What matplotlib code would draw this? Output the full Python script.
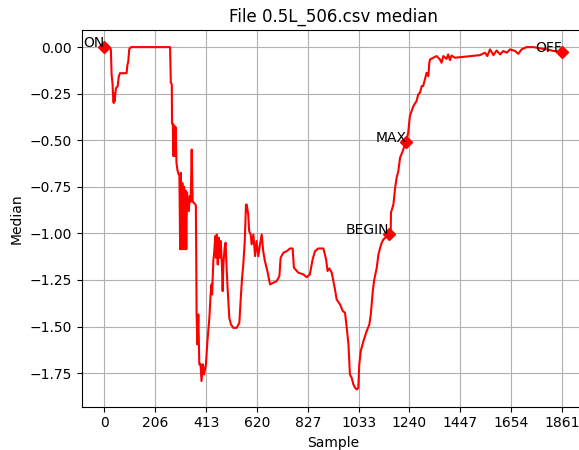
import numpy as np
import matplotlib
matplotlib.use("Agg")
import matplotlib.pyplot as plt

# median trace (sample index, median value)
sample = [
    0, 14, 22, 26, 29, 33, 36, 38, 40, 42, 45, 47, 54, 58, 63, 90, 93, 97, 99, 101, 108,
    267, 270, 274, 275, 278, 281, 284, 287, 290, 293, 297, 301, 305, 308, 311, 314, 317,
    321, 324, 327, 330, 333, 336, 339, 343, 347, 351, 355, 359, 367, 372,
    375, 378, 382, 386, 391, 395, 400, 405, 413, 419, 427, 432, 436, 438, 443, 447, 451,
    454, 457, 461, 465, 469, 473, 478, 481, 484, 489, 493, 497, 501, 508, 515, 524, 538,
    549, 554, 560, 565, 571, 576, 579, 585, 589, 595, 599, 606, 613, 619, 626, 633, 640,
    646, 653, 663, 674, 687, 701, 712, 717, 728, 742, 755, 766, 771, 789, 809, 823, 836,
    847, 857, 870, 891, 902, 908, 915, 925, 938, 945, 959, 970, 979, 986, 993, 999, 1006,
    1013, 1020, 1027, 1033, 1037, 1043, 1054, 1067, 1078, 1084, 1092, 1097, 1108, 1115,
    1122, 1128, 1135, 1149, 1160, 1165, 1166, 1176, 1183, 1189, 1196, 1203, 1214, 1223,
    1228, 1236, 1243, 1250, 1257, 1270, 1277, 1284, 1291, 1297, 1304, 1311, 1318, 1322,
    1325, 1338, 1352, 1365, 1372, 1379, 1392, 1399, 1406, 1413, 1426, 1447, 1488, 1528,
    1549, 1558, 1569, 1583, 1596, 1610, 1623, 1637, 1651, 1671, 1684, 1698, 1718, 1746,
    1773, 1800, 1827, 1861,
]
median = [
    0.0, 0.0, -0.005, -0.01, -0.145, -0.20, -0.29, -0.30, -0.25, -0.29, -0.24, -0.22,
    -0.21, -0.16, -0.14, -0.14, -0.10, -0.075, -0.04, -0.01, 0.0,
    0.0, -0.19, -0.20, -0.41, -0.41, -0.585, -0.42, -0.585, -0.43, -0.62, -0.66, -0.68,
    -0.69, -1.085, -0.675, -1.085, -0.73, -1.085, -0.75, -1.085, -0.77, -1.085, -0.78,
    -0.84, -0.88, -0.80, -0.83, -0.55, -0.83, -0.84, -0.85,
    -1.435, -1.596, -1.435, -1.703, -1.703, -1.793, -1.703, -1.757, -1.703, -1.578,
    -1.453, -1.328, -1.274, -1.328, -1.149, -1.095, -1.014, -1.131, -1.006, -1.167,
    -1.023, -1.131, -1.041, -1.167, -1.310, -1.167, -1.077, -1.050, -1.184, -1.292,
    -1.453, -1.489, -1.507, -1.507, -1.480, -1.363, -1.238, -1.167, -1.041, -0.845,
    -0.845, -0.898, -0.988, -1.006, -1.059, -1.006, -1.122, -1.041, -1.122, -1.059,
    -1.006, -1.095, -1.149, -1.202, -1.274, -1.265, -1.256, -1.229, -1.131, -1.104,
    -1.095, -1.081, -1.081, -1.184, -1.211, -1.220, -1.235, -1.220, -1.140, -1.095,
    -1.081, -1.081, -1.140, -1.202, -1.188, -1.211, -1.300, -1.355, -1.382, -1.417,
    -1.426, -1.507, -1.596, -1.757, -1.775, -1.811, -1.829, -1.838, -1.829, -1.704,
    -1.632, -1.578, -1.525, -1.489, -1.435, -1.310, -1.256, -1.185, -1.113, -1.077,
    -1.051, -1.033, -1.015, -1.002, -0.987, -0.889, -0.844, -0.755, -0.701, -0.665,
    -0.594, -0.558, -0.522, -0.510, -0.460, -0.370, -0.344, -0.317, -0.290, -0.254,
    -0.245, -0.209, -0.209, -0.174, -0.138, -0.156, -0.084, -0.066, -0.057, -0.048,
    -0.066, -0.084, -0.048, -0.063, -0.039, -0.070, -0.045, -0.057, -0.054, -0.048,
    -0.043, -0.030, -0.048, -0.012, -0.043, -0.018, -0.039, -0.021, -0.030, -0.012,
    -0.021, -0.036, -0.012, 0.0, 0.0, -0.007, -0.012, -0.021, -0.025,
]

# labelled events
event_names = ["ON", "BEGIN", "MAX", "OFF"]
event_x = [0, 1160, 1228, 1861]
event_y = [0.0, -1.002, -0.510, -0.025]

n_last = 1861

fig = plt.figure(figsize=(5.79, 4.5), dpi=100)
ax = fig.add_axes([81.6 / 579, 43.4 / 450, 503 / 579, 376.6 / 450])

ax.plot(sample, median, color="red", linewidth=1.5)
ax.plot(event_x, event_y, "D", color="red", markersize=6)
for name, ex, ey in zip(event_names, event_x, event_y):
    ax.text(ex, ey, name, ha="right", va="baseline", fontsize=10)

ticks = np.linspace(0, n_last, 10)
ax.set_xticks(ticks)
ax.set_xticklabels([str(int(t)) for t in ticks])
ax.grid(True, color="#b0b0b0", linewidth=0.8)
ax.set_axisbelow(True)

ax.set_title("File 0.5L_506.csv median", fontsize=12)
ax.set_xlabel("Sample")
ax.set_ylabel("Median")

fig.savefig("out.png", dpi=100)
